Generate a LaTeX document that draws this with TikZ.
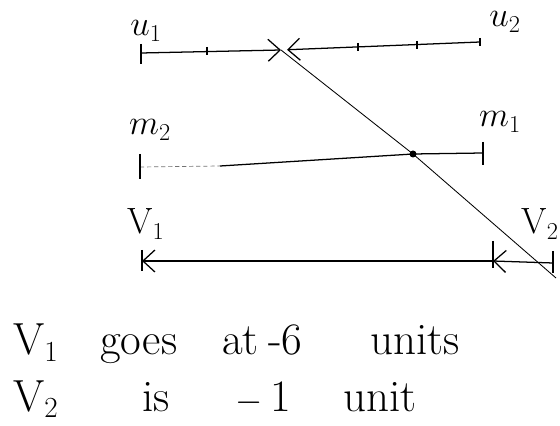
\documentclass[tikz,border=0pt]{standalone}
\usepackage{tikz}
\usetikzlibrary{arrows.meta,positioning,calc}

\begin{document}
\begin{tikzpicture}[x=0.025cm, y=-0.025cm,
  pen/.style={line width=0.9pt, black},
  vec/.style={pen, -{Straight Barb[length=3mm, width=5.5mm]}},
  ghost/.style={densely dashed, black!55, line width=0.5pt},
  lbl/.style={font=\fontsize{26}{30}\selectfont, inner sep=0pt},
  note/.style={font=\fontsize{32}{36}\selectfont, anchor=base west, inner sep=0pt},
]
\useasboundingbox (0,0) rectangle (560,426);

% ---------- points on the three lines
\coordinate (u1s) at (141,53);
\coordinate (hit) at (281,50);
\coordinate (u2s) at (480,42);
\coordinate (m2s) at (140,167);
\coordinate (m2d) at (220,166);
\coordinate (cross) at (413,154);
\coordinate (m1s) at (483,153);
\coordinate (v1e) at (142,261);
\coordinate (v2e) at (493,261);
\coordinate (v2s) at (553,263);
\coordinate (slide) at (556,278);

% ---------- labels
\node[lbl] (lu1) at (146,31)  {$u_1$};
\node[lbl] (lu2) at (505,22)  {$u_2$};
\node[lbl] (lm2) at (150,130) {$m_2$};
\node[lbl] (lm1) at (500,122) {$m_1$};
\node[lbl] (lv1) at (146,224) {V$_1$};
\node[lbl, anchor=east] (lv2) at (559,224) {V$_2$};

% ---------- u line, both arrows meet
\draw[vec] (u1s) -- (hit);
\draw[vec, shorten >=1.5mm] (u2s) -- (hit);
\draw[pen] ($(u1s)+(0,-9)$) -- ++(0,20);
\draw[pen] (207,47) -- (207,55);
\draw[pen] (358,43) -- (358,51);
\draw[pen] (417,41) -- (417,49);
\draw[pen] ($(u2s)+(0,-4)$) -- ++(0,8);

% ---------- path after the hit
\draw[pen, line width=0.6pt] (hit) -- (cross) -- (slide);

% ---------- m line
\draw[ghost] (m2s) -- (m2d);
\draw[pen] (m2d) -- (cross) -- (m1s);
\fill (cross) circle (3.5);
\draw[pen] ($(m2s)+(0,-13)$) -- ++(0,25);
\draw[pen] ($(m1s)+(0,-11)$) -- ++(0,23);

% ---------- V line
\draw[vec] (v2e) -- (v1e);
\draw[vec] (v2s) -- (v2e);
\draw[pen] ($(v1e)+(0,-11)$) -- ++(0,21);
\draw[pen] ($(v2e)+(0,-20)$) -- ++(0,27);
\draw[pen] ($(v2s)+(0,-12)$) -- ++(0,22);

% ---------- notes
\foreach \w/\x [count=\i] in {V$_1$/13, goes/100, at/222, -6/268, units/370}
  \node[note] (na\i) at (\x,355) {\w};
\foreach \w/\x [count=\i] in {V$_2$/13, is/142, {$-$\hspace{6pt}1}/235, unit/343}
  \node[note] (nb\i) at (\x,411) {\w};
\end{tikzpicture}
\end{document}
